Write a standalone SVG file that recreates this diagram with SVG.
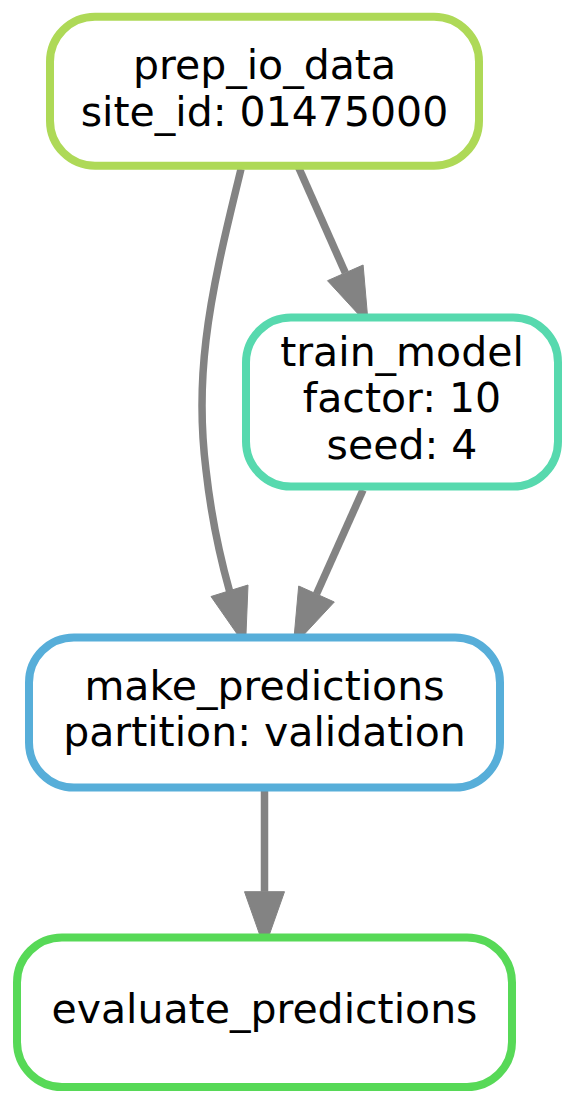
<svg xmlns="http://www.w3.org/2000/svg" width="575" height="1104" viewBox="0 0 575 1104">
<style>
.node rect{fill:#ffffff;stroke-width:8}
.node text{font-family:"DejaVu Sans","Noto Sans",sans-serif;font-size:41px;fill:#000000;text-anchor:middle}
.edge path{fill:none;stroke:#838383;stroke-width:7.5}
.edge polygon{fill:#838383;stroke:#838383;stroke-width:1}
</style>
<rect x="0" y="0" width="575" height="1104" fill="#ffffff"/>
<g id="connectors" class="edge">
<path d="M241,169 C230,215 213,280 206,340 C200,390 201,430 206,470 C211,515 218,550 229.6,591.3"/>
<polygon points="248,585 211,596.5 245.5,646"/>
<path d="M298.3,166.7 L345.3,272.8"/>
<polygon points="363.1,265 327.5,280.7 368.3,325"/>
<path d="M363,490 L316.5,594"/>
<polygon points="334.3,602 298.7,586 293.3,646"/>
<path d="M264.5,787.5 L264.5,891.7"/>
<polygon points="244.5,891.7 284.5,891.7 264.5,948.3"/>
</g>
<g id="prep_io_data" class="node">
<rect x="50" y="16.7" width="429" height="149" rx="45" ry="45" stroke="#AED957"/>
<text x="264.5" y="79">prep_io_data</text>
<text x="264.5" y="125.5">site_id: 01475000</text>
</g>
<g id="train_model" class="node">
<rect x="246" y="317.5" width="312" height="169" rx="45" ry="45" stroke="#57D9AE"/>
<text x="402" y="366">train_model</text>
<text x="402" y="412">factor: 10</text>
<text x="402" y="458.5">seed: 4</text>
</g>
<g id="make_predictions" class="node">
<rect x="29" y="637.5" width="471" height="150" rx="45" ry="45" stroke="#57AED9"/>
<text x="264.5" y="699.5">make_predictions</text>
<text x="264.5" y="746">partition: validation</text>
</g>
<g id="evaluate_predictions" class="node">
<rect x="17" y="937.5" width="495" height="149.5" rx="45" ry="45" stroke="#57D957"/>
<text x="264.5" y="1022.7">evaluate_predictions</text>
</g>
</svg>
